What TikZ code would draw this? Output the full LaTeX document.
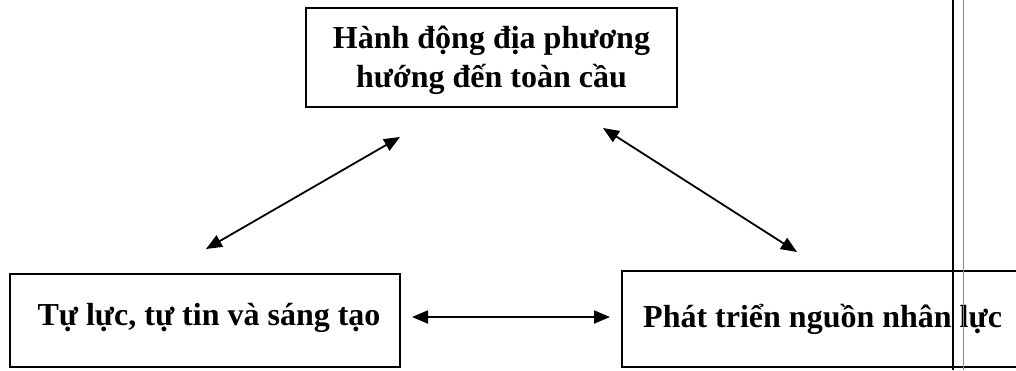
\documentclass[tikz,border=0pt]{standalone}
\usepackage{fontspec}
\setmainfont{Liberation Serif}
\usetikzlibrary{arrows.meta}
\begin{document}
\begin{tikzpicture}[x=1pt,y=-1pt,
  boxnode/.style={draw=black,line width=1.6pt,inner sep=0pt},
  lbl/.style={font=\fontsize{32}{39}\selectfont\bfseries,inner sep=0pt,align=center},
  dblarrow/.style={{Triangle[length=16pt,width=13pt]}-{Triangle[length=16pt,width=13pt]},line width=1.8pt}]
\useasboundingbox (0,0) rectangle (1016,370);
\clip (0,0) rectangle (1016,370);
% boxes
\node[boxnode,minimum width=371pt,minimum height=99pt] (top) at (491.5,57.5) {};
\node[lbl] (toptext) at (491.5,60) {Hành động địa phương\\hướng đến toàn cầu};
\node[boxnode,minimum width=390pt,minimum height=93pt] (left) at (205,320.5) {};
\node[lbl,anchor=base] (lefttext) at (209,325) {Tự lực, tự tin và sáng tạo};
\node[boxnode,minimum width=420pt,minimum height=96pt] (right) at (832,319) {};
\node[lbl,anchor=base west] (righttext) at (643,327) {Phát triển nguồn nhân lực};
% arrow ends
\coordinate (a1) at (206,249);
\coordinate (a2) at (400,137);
\coordinate (b1) at (603,128);
\coordinate (b2) at (797,252);
\coordinate (c1) at (412,317);
\coordinate (c2) at (610,317);
\draw[dblarrow] (a1) -- (a2);
\draw[dblarrow] (b1) -- (b2);
\draw[dblarrow] (c1) -- (c2);
% margin lines
\coordinate (v1t) at (953,0);
\coordinate (v1b) at (953,370);
\coordinate (v2t) at (963,0);
\coordinate (v2b) at (963,370);
\draw[line width=2pt,black] (v1t) -- (v1b);
\draw[line width=1pt,black!45] (v2t) -- (v2b);
\end{tikzpicture}
\end{document}
